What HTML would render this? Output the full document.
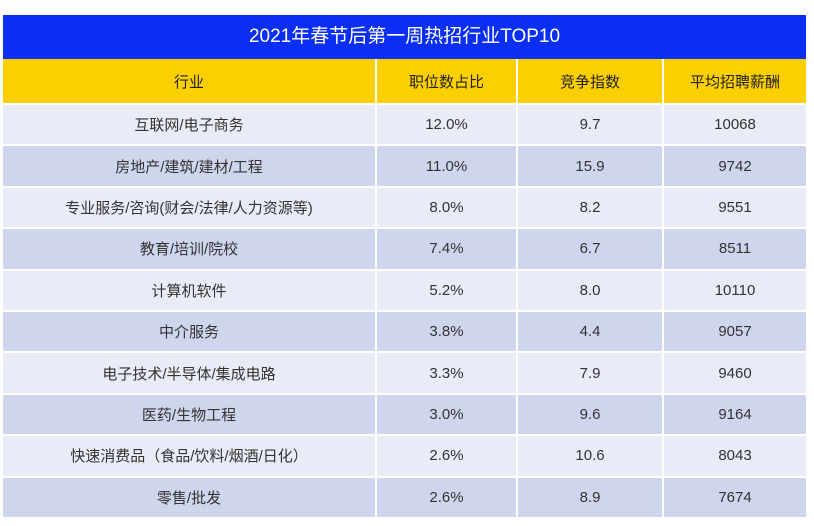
<!DOCTYPE html>
<html><head><meta charset="utf-8"><style>
body{margin:0;width:814px;height:526px;background:#fff;font-family:"Liberation Sans","Noto Sans CJK SC",sans-serif;overflow:hidden}
.t{position:absolute;left:3px;top:15px;width:803px}
.title{height:44px;background:#0a2ef2;color:#fff;font-size:19px;line-height:44px;text-align:center}
.row{display:flex;height:41.4px}
.row div{box-sizing:border-box;border-right:2px solid #fff;border-top:2px solid #fff;display:flex;align-items:center;justify-content:center;font-size:15px;color:#333}
.row div:last-child{border-right:none}
.c1{width:374px}.c2{width:141px}.c3{width:146px}.c4{width:142px}
.hd{height:44px}.hd div{background:#fcd000;color:#222;border-top:none}
.l div{background:#e9ebf6}.d div{background:#cfd5ed}
</style></head><body>
<div class="t">
<div class="title">2021年春节后第一周热招行业TOP10</div>
<div class="row hd"><div class="c1">行业</div><div class="c2">职位数占比</div><div class="c3">竞争指数</div><div class="c4">平均招聘薪酬</div></div>
<div id="body"></div>
</div>
<script>
const industries=["互联网/电子商务","房地产/建筑/建材/工程","专业服务/咨询(财会/法律/人力资源等)","教育/培训/院校","计算机软件","中介服务","电子技术/半导体/集成电路","医药/生物工程","快速消费品（食品/饮料/烟酒/日化）","零售/批发"];
const shares=["12.0%","11.0%","8.0%","7.4%","5.2%","3.8%","3.3%","3.0%","2.6%","2.6%"];
const competition=["9.7","15.9","8.2","6.7","8.0","4.4","7.9","9.6","10.6","8.9"];
const salary=["10068","9742","9551","8511","10110","9057","9460","9164","8043","7674"];
const body=document.getElementById('body');
industries.forEach((n,i)=>{
 const r=document.createElement('div');
 r.className='row '+(i%2?'d':'l');
 
 
 [[n,'c1'],[shares[i],'c2'],[competition[i],'c3'],[salary[i],'c4']].forEach(([v,c])=>{
  const d=document.createElement('div');d.className=c;d.textContent=v;
  
  
  r.appendChild(d);
 });
 body.appendChild(r);
});
</script>
</body></html>
